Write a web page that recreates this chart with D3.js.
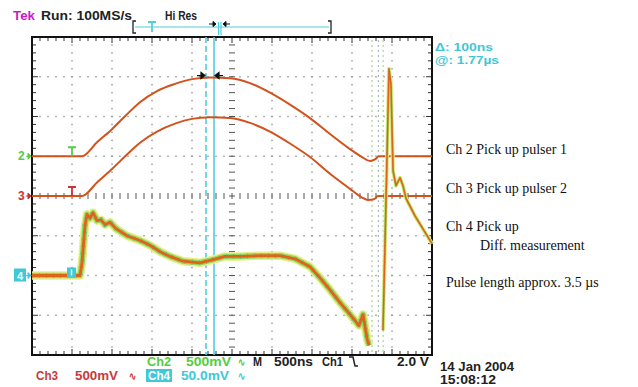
<!DOCTYPE html>
<html><head><meta charset="utf-8">
<script src="https://cdn.jsdelivr.net/npm/d3@7"></script>
<style>body{margin:0;background:#fff}svg{display:block}</style>
</head><body>
<svg id="c" width="638" height="387"></svg>
<script>
// ---- data (time in µs, 500 ns/div; ch2/ch3 in V at 500 mV/div; ch4 in mV at 50 mV/div)
const ch2 = [[0,0],[0.625,0],[0.8125,0.176],[1.0,0.34],[1.175,0.516],[1.35,0.68],[1.5625,0.82],[1.7875,0.91],[2.0,0.97],[2.225,0.99],[2.475,0.98],[2.725,0.92],[2.975,0.80],[3.225,0.65],[3.475,0.48],[3.725,0.28],[3.975,0.09],[4.125,-0.01],[4.225,-0.06],[4.2875,-0.04],[4.3375,0],[5.0,0]];
const ch3 = [[0,0],[0.625,0],[0.8125,0.17],[1.0,0.34],[1.175,0.51],[1.35,0.67],[1.5625,0.81],[1.7875,0.91],[2.0,0.97],[2.225,0.99],[2.475,0.98],[2.725,0.92],[2.975,0.81],[3.225,0.66],[3.475,0.49],[3.725,0.28],[3.975,0.09],[4.125,-0.02],[4.2,-0.05],[4.275,-0.04],[4.325,0],[5.0,0]];
const ch4 = [[0,0],[0.6,0],[0.625,16],[0.6625,63],[0.6875,77],[0.725,72],[0.7625,79],[0.8125,69],[0.8625,70],[0.9125,64],[0.975,67],[1.05,59],[1.1875,50],[1.35,44],[1.475,38],[1.6,30],[1.725,24],[1.8875,18],[2.1,16],[2.2625,20],[2.4125,24],[2.6,24],[2.85,25],[3.1,25],[3.2875,21],[3.475,11],[3.6,-3],[3.725,-18],[3.85,-34],[3.975,-49],[4.0875,-63],[4.1375,-49],[4.1875,-79],[4.2125,-88]];
const ch4Tail = [[4.3875,-69],[4.425,94],[4.4625,260],[4.4875,240],[4.5125,132],[4.55,113],[4.6,123],[4.6375,113],[4.675,97],[4.7875,75],[5.0,40]];
const transients = [4.25, 4.33, 4.39];          // faint fast edges (µs)
const cursors = [2.175, 2.275];                  // Δ = 100 ns
const offsets = {ch2: 1, ch3: 0, ch4: -2};       // divisions
const voltsPerDiv = {ch2: 0.5, ch3: 0.5, ch4: 50};
const headerLabels = ["Tek", "Run: 100MS/s", "Hi Res"];
const cursorLabels = ["\u0394: 100ns", "@: 1.77\u00b5s"];
const notes = ["Ch 2 Pick up pulser 1", "Ch 3 Pick up pulser 2", "Ch 4 Pick up", "Diff. measurement", "Pulse length approx. 3.5 \u00b5s"];
const dateLabels = ["14 Jan 2004", "15:08:12"];

// ---- scales
const svg = d3.select("#c");
const x = d3.scaleLinear().domain([0, 5]).range([32, 432]);
const y = d3.scaleLinear().domain([-4, 4]).range([355, 37]);
const X0 = x(0), X1 = x(5), Y0 = y(4), Y1 = y(-4);

const majorT = d3.range(1, 10).map(i => i * 0.5);
const majorD = d3.range(-3, 4);
const minorT = d3.range(0, 50.001, 1).map(i => i / 10);
const minorD = d3.range(-20, 20.001, 1).map(i => i / 5);
const isMajT = t => Math.abs(t * 2 - Math.round(t * 2)) < 1e-6;
const isMajD = d => Math.abs(d - Math.round(d)) < 1e-6;

const g = svg.append("g");
// dotted graticule
majorT.filter(t => t !== 2.5).forEach(t => {
  g.selectAll(null).data(minorD).join("rect")
    .attr("x", x(t) - 0.7).attr("y", d => y(d) - 0.7).attr("width", 1.4).attr("height", 1.4).attr("fill", "#909090");
});
majorD.filter(d => d !== 0).forEach(dv => {
  g.selectAll(null).data(minorT).join("rect")
    .attr("x", t => x(t) - 0.7).attr("y", y(dv) - 0.7).attr("width", 1.4).attr("height", 1.4).attr("fill", "#909090");
});
// center cross with ticks
g.selectAll(null).data(minorT).join("line")
  .attr("x1", t => x(t)).attr("x2", t => x(t)).attr("y1", y(0) - 3).attr("y2", y(0) + 3)
  .attr("stroke", "#555").attr("stroke-width", 1);
g.selectAll(null).data(minorD).join("line")
  .attr("y1", d => y(d)).attr("y2", d => y(d)).attr("x1", x(2.5) - 3).attr("x2", x(2.5) + 3)
  .attr("stroke", "#555").attr("stroke-width", 1);
// frame ticks
g.selectAll(null).data(minorT).join("line")
  .attr("x1", t => x(t)).attr("x2", t => x(t)).attr("y1", Y0).attr("y2", t => Y0 + (isMajT(t) ? 6 : 4)).attr("stroke", "#333");
g.selectAll(null).data(minorT).join("line")
  .attr("x1", t => x(t)).attr("x2", t => x(t)).attr("y1", Y1).attr("y2", t => Y1 - (isMajT(t) ? 6 : 4)).attr("stroke", "#333");
g.selectAll(null).data(minorD).join("line")
  .attr("y1", d => y(d)).attr("y2", d => y(d)).attr("x1", X0).attr("x2", d => X0 + (isMajD(d) ? 6 : 4)).attr("stroke", "#333");
g.selectAll(null).data(minorD).join("line")
  .attr("y1", d => y(d)).attr("y2", d => y(d)).attr("x1", X1).attr("x2", d => X1 - (isMajD(d) ? 6 : 4)).attr("stroke", "#333");
// frame
g.append("rect").attr("x", X0).attr("y", Y0).attr("width", X1 - X0).attr("height", Y1 - Y0)
  .attr("fill", "none").attr("stroke", "#111").attr("stroke-width", 2);

// transients
const tColors = ["#a6d488", "#a4bcc4", "#b4dc70"];
svg.selectAll(null).data(transients).join("line")
  .attr("x1", t => x(t)).attr("x2", t => x(t)).attr("y1", Y0 + 3).attr("y2", Y1)
  .attr("stroke", (t, i) => tColors[i]).attr("stroke-width", 1.2).attr("stroke-dasharray", "2,3");

// cursors
svg.append("line").attr("x1", x(cursors[0])).attr("x2", x(cursors[0])).attr("y1", Y0).attr("y2", Y1)
  .attr("stroke", "#52cde0").attr("stroke-width", 1.6).attr("stroke-dasharray", "6,3");
svg.append("line").attr("x1", x(cursors[1])).attr("x2", x(cursors[1])).attr("y1", Y0).attr("y2", Y1)
  .attr("stroke", "#52cde0").attr("stroke-width", 1.6);

// traces
const lineFor = (key, curve) => d3.line()
  .x(d => x(d[0])).y(d => y(offsets[key] + d[1] / voltsPerDiv[key])).curve(curve);
const trace = "#d2521c";
svg.append("path").attr("d", lineFor("ch2", d3.curveMonotoneX)(ch2)).attr("fill", "none").attr("stroke", trace).attr("stroke-width", 2);
svg.append("path").attr("d", lineFor("ch3", d3.curveMonotoneX)(ch3)).attr("fill", "none").attr("stroke", trace).attr("stroke-width", 2);

const l4 = lineFor("ch4", d3.curveLinear);
[ch4, ch4Tail].forEach((data, k) => {
  const p = l4(data);
  svg.append("path").attr("d", p).attr("fill", "none").attr("stroke", "#e8ee8c").attr("stroke-width", k ? 4 : 8.5).attr("stroke-linejoin", "round");
  svg.append("path").attr("d", p).attr("fill", "none").attr("stroke", "#98d65c").attr("stroke-width", k ? 2.4 : 5.5).attr("stroke-linejoin", "round");
  svg.append("path").attr("d", p).attr("fill", "none").attr("stroke", "#46bdb4").attr("stroke-width", k ? 1 : 5).attr("stroke-dasharray", "1,6").attr("opacity", 0.8);
  svg.append("path").attr("d", p).attr("fill", "none").attr("stroke", "#e0631c").attr("stroke-width", k ? 1.5 : 2.8).attr("stroke-linejoin", "round");
});

// peak crossing markers
const pkY = y(offsets.ch2 + d3.max(ch2, d => d[1]) / voltsPerDiv.ch2) - 2;
const xa = x(cursors[0]), xb = x(cursors[1]);
svg.append("path").attr("d", `M${xa-9},${pkY}H${xa-3}M${xa-1},${pkY}l-4,-3v6z`).attr("stroke", "#111").attr("fill", "#111").attr("stroke-width", 1.2);
svg.append("path").attr("d", `M${xb+9},${pkY}H${xb+3}M${xb+1},${pkY}l4,-3v6z`).attr("stroke", "#111").attr("fill", "#111").attr("stroke-width", 1.2);

// channel markers on the left
const mk = (label, yy, col, boxed) => {
  if (boxed) {
    svg.append("rect").attr("x", 14).attr("y", yy - 7).attr("width", 12).attr("height", 13).attr("fill", col);
    svg.append("text").attr("x", 20).attr("y", yy + 4).attr("text-anchor", "middle").attr("fill", "#fff")
      .attr("font-family", "Liberation Sans, Arial").attr("font-weight", "bold").attr("font-size", 11).text(label);
  } else {
    svg.append("text").attr("x", 18).attr("y", yy + 4).attr("fill", col)
      .attr("font-family", "Liberation Sans, Arial").attr("font-weight", "bold").attr("font-size", 12).text(label);
  }
  svg.append("path").attr("d", `M26,${yy}H31M31,${yy}l-3,-3v6z`).attr("stroke", col).attr("fill", col);
};
mk("2", y(offsets.ch2), "#55cc44", false);
mk("3", y(offsets.ch3), "#cc3333", false);
mk("4", y(offsets.ch4), "#3ec8d8", true);

// trigger-position markers
const tx = x(0.5);
[["#55cc44", offsets.ch2], ["#cc3333", offsets.ch3]].forEach(([c, o]) => {
  svg.append("path").attr("d", `M${tx-4},${y(o)-9}H${tx+4}M${tx},${y(o)-9}V${y(o)}`).attr("stroke", c).attr("stroke-width", 1.8).attr("fill", "none");
});
svg.append("rect").attr("x", tx - 5).attr("y", y(offsets.ch4) - 8).attr("width", 9).attr("height", 10).attr("fill", "#3ec8d8");
svg.append("path").attr("d", `M${tx-0.5},${y(offsets.ch4)-6}V${y(offsets.ch4)}`).attr("stroke", "#fff").attr("stroke-width", 1.5);

// text helper
const tekFont = "Liberation Sans, Arial, sans-serif";
const txt = (s, x1, x2, yy, col, size) => svg.append("text").attr("x", x1).attr("y", yy)
  .attr("fill", col).attr("font-family", tekFont).attr("font-weight", "bold").attr("font-size", size)
  .attr("textLength", x2 - x1).attr("lengthAdjust", "spacingAndGlyphs").text(s);

// header
txt(headerLabels[0], 13, 35, 20, "#c51fc5", 12);
txt(headerLabels[1], 41, 132, 20, "#222", 12);
txt(headerLabels[2], 165, 197, 20, "#222", 12);

// record bar
svg.append("line").attr("x1", 135).attr("x2", 329).attr("y1", 27).attr("y2", 27).attr("stroke", "#52cde0").attr("stroke-width", 1.2);
svg.append("path").attr("d", "M136,21H133V33H136M328,21H331V33H328").attr("stroke", "#222").attr("fill", "none").attr("stroke-width", 1.3);
svg.append("path").attr("d", "M148,22H156M152,22V32").attr("stroke", "#52cde0").attr("stroke-width", 1.8).attr("fill", "none");
svg.append("path").attr("d", "M209,24H214M216,24l-3,-2.5v5z M230,24H225M223,24l3,-2.5v5z").attr("stroke", "#111").attr("fill", "#111");
svg.append("path").attr("d", "M218.5,22V35M221,22V35").attr("stroke", "#52cde0").attr("stroke-width", 1.2);

// cursor readout
txt(cursorLabels[0], 435, 493, 51, "#42c6d6", 11.5);
txt(cursorLabels[1], 435, 499, 64, "#42c6d6", 11.5);

// bottom readouts
const green = "#55cc44", red = "#c83a3a", cyan = "#3ec8d8";
txt("Ch2", 147, 171, 366, green, 12);
txt("500mV", 186, 231, 366, green, 12);
txt("\u223f", 238, 245, 366, green, 11);
txt("M", 253, 262, 366, "#222", 12);
txt("500ns", 274, 313, 366, "#222", 12);
txt("Ch1", 322, 343, 366, "#222", 12);
svg.append("path").attr("d", "M349,357H353L355,366H358").attr("stroke", "#222").attr("stroke-width", 1.5).attr("fill", "none");
txt("2.0 V", 397, 429, 366, "#222", 12);

txt("Ch3", 36, 58, 380, red, 12);
txt("500mV", 75, 118, 380, red, 12);
txt("\u223f", 129, 136, 380, red, 11);
svg.append("rect").attr("x", 146).attr("y", 369).attr("width", 26).attr("height", 13).attr("fill", cyan);
txt("Ch4", 148, 170, 380, "#ffffff", 12);
txt("50.0mV", 181, 229, 380, cyan, 12);
txt("\u223f", 238, 245, 380, cyan, 11);

txt(dateLabels[0], 440, 514, 371, "#222", 12);
txt(dateLabels[1], 440, 496, 384, "#222", 12);

// annotations
const serif = "Liberation Serif, Times New Roman, serif";
const notePos = [[446, 154], [446, 193], [446, 231], [480, 250], [446, 287]];
svg.selectAll(null).data(notes).join("text")
  .attr("x", (d, i) => notePos[i][0]).attr("y", (d, i) => notePos[i][1])
  .attr("font-family", serif).attr("font-size", 14).attr("fill", "#111").text(d => d);
</script>
</body></html>
